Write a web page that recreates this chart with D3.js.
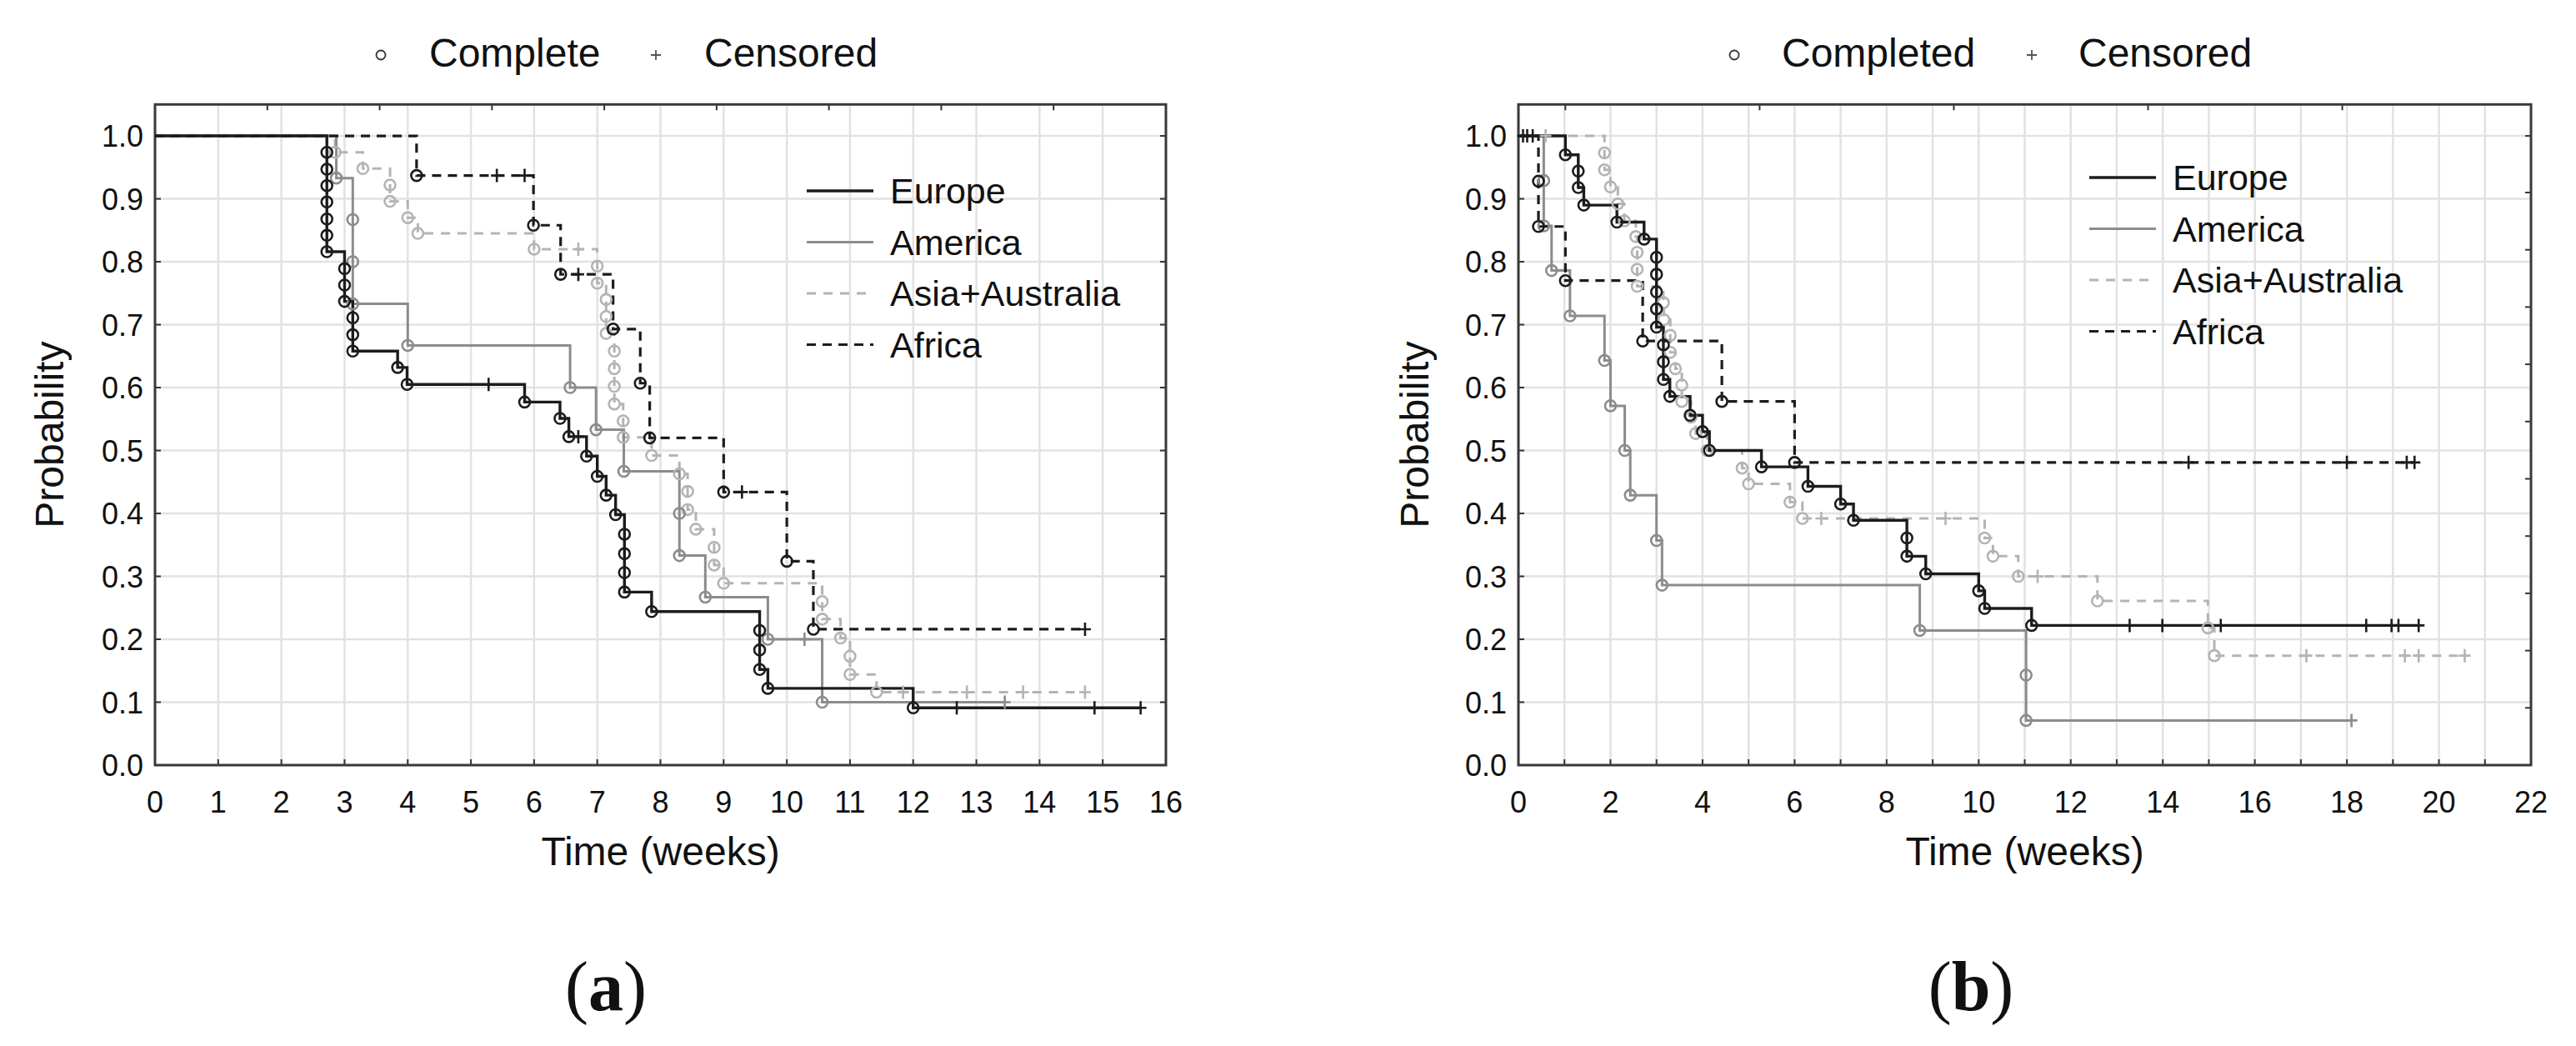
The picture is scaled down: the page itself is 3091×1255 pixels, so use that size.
<!DOCTYPE html>
<html lang="en">
<head>
<meta charset="UTF-8">
<title>Kaplan-Meier curves by region</title>
<script src="https://d3js.org/d3.v7.min.js"></script>
<style>
  body { margin: 0; background: #fff; }
  text { font-family: "Liberation Sans", Arial, sans-serif; fill: #111; }
</style>
</head>
<body>
<script>
// series names, in legend order
const regions = ["Europe", "America", "Asia+Australia", "Africa"];

// ---- panel (a): completed cases [week, probability] and censored cases ----
const europeA = [[2.72,0.974],[2.72,0.947],[2.72,0.921],[2.72,0.895],[2.72,0.868],[2.72,0.842],[2.72,0.816],
  [3.0,0.789],[3.0,0.763],[3.0,0.737],[3.13,0.711],[3.13,0.684],[3.13,0.658],[3.84,0.632],[3.99,0.605],
  [5.85,0.577],[6.41,0.551],[6.55,0.522],[6.83,0.491],[7.0,0.459],[7.14,0.429],[7.29,0.398],
  [7.43,0.367],[7.43,0.336],[7.43,0.306],[7.43,0.275],[7.86,0.244],
  [9.57,0.214],[9.57,0.183],[9.57,0.152],[9.70,0.122],[12.0,0.091]];
const europeCensA = [[5.28,0.605],[6.70,0.522],[12.69,0.091],[14.87,0.091],[15.6,0.091]];

const americaA = [[2.87,0.933],[3.13,0.867],[3.13,0.800],[3.13,0.733],[4.0,0.667],[6.57,0.600],[6.98,0.533],
  [7.42,0.467],[8.30,0.400],[8.30,0.333],[8.71,0.267],[9.70,0.200],[10.56,0.100]];
const americaCensA = [[10.28,0.200],[13.45,0.100]];

const asiaA = [[2.85,0.974],[3.29,0.948],[3.72,0.922],[3.72,0.896],[4.0,0.870],[4.16,0.845],[6.0,0.820],
  [7.0,0.793],[7.0,0.766],[7.14,0.740],[7.14,0.713],[7.14,0.686],
  [7.27,0.658],[7.27,0.630],[7.27,0.602],[7.27,0.574],[7.41,0.547],[7.41,0.521],
  [7.86,0.492],[8.30,0.463],[8.43,0.435],[8.43,0.406],[8.56,0.375],[8.85,0.346],[8.85,0.318],[9.0,0.289],
  [10.56,0.260],[10.56,0.232],[10.85,0.202],[11.0,0.173],[11.0,0.144],[11.42,0.116]];
const asiaCensA = [[6.70,0.820],[11.84,0.116],[12.85,0.116],[13.74,0.116],[14.72,0.116]];

const africaA = [[4.14,0.937],[5.99,0.858],[6.42,0.780],[7.25,0.693],[7.68,0.607],[7.83,0.520],
  [9.0,0.434],[10.0,0.324],[10.42,0.216]];
const africaCensA = [[5.41,0.937],[5.85,0.937],[6.70,0.780],[9.29,0.434],[14.72,0.216]];

// ---- panel (b) ----
const europeB = [[1.02,0.970],[1.30,0.944],[1.30,0.918],[1.42,0.890],[2.14,0.863],[2.73,0.836],
  [3.0,0.807],[3.0,0.780],[3.0,0.752],[3.0,0.725],[3.0,0.696],[3.15,0.668],[3.15,0.641],[3.15,0.613],
  [3.29,0.586],[3.73,0.556],[4.0,0.530],[4.15,0.500],[5.28,0.474],[6.29,0.443],[7.0,0.415],[7.28,0.389],
  [8.44,0.361],[8.44,0.332],[8.85,0.304],[10.0,0.277],[10.13,0.249],[11.15,0.222]];
const europeCensB = [[0.10,1],[0.19,1],[13.28,0.222],[13.99,0.222],[15.26,0.222],[18.42,0.222],
  [18.97,0.222],[19.12,0.222],[19.56,0.222]];

const americaB = [[0.55,0.929],[0.55,0.857],[0.72,0.786],[1.12,0.714],[1.87,0.643],[2.0,0.571],[2.31,0.500],
  [2.43,0.429],[3.0,0.357],[3.12,0.286],[8.72,0.214],[11.03,0.143],[11.03,0.071]];
const americaCensB = [[18.1,0.071]];

const asiaB = [[1.87,0.973],[1.87,0.946],[2.0,0.919],[2.16,0.892],[2.30,0.865],[2.55,0.840],[2.58,0.815],
  [2.58,0.788],[2.58,0.761],[3.15,0.735],[3.16,0.708],[3.30,0.683],[3.30,0.656],[3.41,0.630],[3.55,0.604],
  [3.55,0.578],[3.75,0.553],[3.85,0.527],[4.1,0.500],[4.86,0.472],[5.0,0.447],[5.9,0.418],[6.17,0.392],
  [10.13,0.361],[10.31,0.332],[10.86,0.300],[12.58,0.261],[14.98,0.218],[15.12,0.174]];
const asiaCensB = [[0.59,1],[6.58,0.392],[9.28,0.392],[11.28,0.300],[17.12,0.174],[19.26,0.174],
  [19.56,0.174],[20.56,0.174]];

const africaB = [[0.435,0.928],[0.435,0.856],[1.02,0.770],[2.70,0.674],[4.42,0.578],[6.0,0.481]];
const africaCensB = [[0.31,1],[14.56,0.481],[18.0,0.481],[19.3,0.481],[19.47,0.481]];

// ---- axes ----
const yTickLabels = ["0.0","0.1","0.2","0.3","0.4","0.5","0.6","0.7","0.8","0.9","1.0"];
const xTickLabelsA = [0,1,2,3,4,5,6,7,8,9,10,11,12,13,14,15,16];
const xGridB = [0,1,2,3,4,5,6,7,8,9,10,11,12,13,14,15,16,17,18,19,20,21,22];
const xTickLabelsB = [0,2,4,6,8,10,12,14,16,18,20,22];

const W = 3091, H = 1255;
const svg = d3.select("body").append("svg").attr("width", W).attr("height", H);

const colors = ["#1c1c1c", "#8c8c8c", "#b4b4b4", "#1c1c1c"];
const dashes = [null, null, "11,9", "11,8"];
const widths = [3.4, 3, 3, 3.2];

const yScale = d3.scaleLinear().domain([0, 1.05]).range([918, 125.3]);

function drawPanel(p) {
  const x = d3.scaleLinear().domain([0, p.xMax]).range([p.left, p.right]);
  const g = svg.append("g");
  const top = yScale(1.05), bottom = yScale(0);

  // grid
  g.selectAll(".gx").data(p.gridX).join("line")
    .attr("x1", d => x(d)).attr("x2", d => x(d)).attr("y1", top).attr("y2", bottom)
    .attr("stroke", "#e2e2e2").attr("stroke-width", 2.5);
  g.selectAll(".gy").data(yTickLabels).join("line")
    .attr("x1", p.left).attr("x2", p.right).attr("y1", d => yScale(+d)).attr("y2", d => yScale(+d))
    .attr("stroke", "#e2e2e2").attr("stroke-width", 2.5);

  // inner tick marks
  const tk = 7;
  g.selectAll(".tb").data(p.gridX).join("line")
    .attr("x1", d => x(d)).attr("x2", d => x(d)).attr("y1", bottom).attr("y2", bottom - tk)
    .attr("stroke", "#333").attr("stroke-width", 2);
  g.selectAll(".tl").data(yTickLabels).join("line")
    .attr("x1", p.left).attr("x2", p.left + tk).attr("y1", d => yScale(+d)).attr("y2", d => yScale(+d))
    .attr("stroke", "#333").attr("stroke-width", 2);
  g.selectAll(".tt").data(p.topTicks).join("line")
    .attr("x1", d => x(d)).attr("x2", d => x(d)).attr("y1", top).attr("y2", top + tk)
    .attr("stroke", "#333").attr("stroke-width", 2);
  g.selectAll(".tr").data(p.rightTicks).join("line")
    .attr("x1", p.right).attr("x2", p.right - tk).attr("y1", d => yScale(d)).attr("y2", d => yScale(d))
    .attr("stroke", "#333").attr("stroke-width", 2);

  // frame
  g.append("rect").attr("x", p.left).attr("y", top).attr("width", p.right - p.left).attr("height", bottom - top)
    .attr("fill", "none").attr("stroke", "#3a3a3a").attr("stroke-width", 3);

  // tick labels
  g.selectAll(".ly").data(yTickLabels).join("text")
    .attr("x", p.left - 14).attr("y", d => yScale(+d) + 13)
    .attr("text-anchor", "end").attr("font-size", 36).text(d => d);
  g.selectAll(".lx").data(p.xLabels).join("text")
    .attr("x", d => x(d)).attr("y", bottom + 57)
    .attr("text-anchor", "middle").attr("font-size", 36).text(d => d);

  // axis titles
  g.append("text").attr("x", (p.left + p.right) / 2).attr("y", 1038)
    .attr("text-anchor", "middle").attr("font-size", 48).text("Time (weeks)");
  g.append("text").attr("transform", `translate(${p.yTitleX},${(top + bottom) / 2}) rotate(-90)`)
    .attr("text-anchor", "middle").attr("font-size", 48).text("Probability");

  // curves
  const line = d3.line().x(d => x(d[0])).y(d => yScale(d[1])).curve(d3.curveStepAfter);
  const order = [2, 1, 3, 0];
  order.forEach(i => {
    const ev = p.events[i], ce = p.censored[i];
    const pts = [[0, 1]].concat(ev);
    const allT = ev.map(d => d[0]).concat(ce.map(d => d[0]));
    pts.push([d3.max(allT), ev[ev.length - 1][1]]);
    g.append("path").attr("d", line(pts)).attr("fill", "none")
      .attr("stroke", colors[i]).attr("stroke-width", widths[i])
      .attr("stroke-dasharray", dashes[i]);
  });
  order.forEach(i => {
    g.selectAll(null).data(p.events[i]).join("circle")
      .attr("cx", d => x(d[0])).attr("cy", d => yScale(d[1])).attr("r", 6.5)
      .attr("fill", "none").attr("stroke", colors[i]).attr("stroke-width", 2.6);
    g.selectAll(null).data(p.censored[i]).join("path")
      .attr("d", d => `M${x(d[0]) - 7},${yScale(d[1])}h14M${x(d[0])},${yScale(d[1]) - 8}v16`)
      .attr("stroke", colors[i]).attr("stroke-width", 2.6);
  });

  // legend inside the plot
  const lg = g.append("g");
  regions.forEach((r, i) => {
    const ly = p.legendY + i * 61.5;
    lg.append("line").attr("x1", p.legendX).attr("x2", p.legendX + 80).attr("y1", ly).attr("y2", ly)
      .attr("stroke", colors[i]).attr("stroke-width", widths[i]).attr("stroke-dasharray", dashes[i]);
    lg.append("text").attr("x", p.legendX + 100).attr("y", ly + 15).attr("font-size", 43).text(r);
  });

  // legend above the plot
  g.append("circle").attr("cx", p.topLegend[0]).attr("cy", 66).attr("r", 5.5)
    .attr("fill", "none").attr("stroke", "#333").attr("stroke-width", 1.8);
  g.append("text").attr("x", p.topLegend[1]).attr("y", 80).attr("font-size", 48).text(p.completeLabel);
  g.append("path").attr("d", `M${p.topLegend[2] - 6},66h12M${p.topLegend[2]},60v12`)
    .attr("stroke", "#555").attr("stroke-width", 1.8);
  g.append("text").attr("x", p.topLegend[3]).attr("y", 80).attr("font-size", 48).text("Censored");

  // panel letter
  const t = g.append("text").attr("x", p.letterX).attr("y", 1212).attr("text-anchor", "middle")
    .attr("font-size", 84).style("font-family", "'Liberation Serif', 'Times New Roman', serif");
  t.append("tspan").text("(");
  t.append("tspan").attr("font-weight", "bold").text(p.letter);
  t.append("tspan").text(")");
}

drawPanel({
  left: 186, right: 1399, xMax: 16,
  gridX: xTickLabelsA, xLabels: xTickLabelsA,
  topTicks: [16/9, 32/9, 48/9, 64/9, 80/9, 96/9, 112/9, 128/9],
  rightTicks: [0.1,0.2,0.3,0.4,0.5,0.6,0.7,0.8,0.9,1.0],
  events: [europeA, americaA, asiaA, africaA],
  censored: [europeCensA, americaCensA, asiaCensA, africaCensA],
  legendX: 968, legendY: 229, yTitleX: 76,
  topLegend: [457, 515, 787, 845], completeLabel: "Complete",
  letter: "a", letterX: 727
});

drawPanel({
  left: 1822, right: 3037, xMax: 22,
  gridX: xGridB, xLabels: xTickLabelsB,
  topTicks: [1.02, 5.24, 9.46, 13.68, 17.9],
  rightTicks: [0.091,0.182,0.273,0.364,0.455,0.546,0.637,0.728,0.819,0.91,1.0],
  events: [europeB, americaB, asiaB, africaB],
  censored: [europeCensB, americaCensB, asiaCensB, africaCensB],
  legendX: 2507, legendY: 213, yTitleX: 1714,
  topLegend: [2081, 2138, 2438, 2494], completeLabel: "Completed",
  letter: "b", letterX: 2365
});
</script>
</body>
</html>
